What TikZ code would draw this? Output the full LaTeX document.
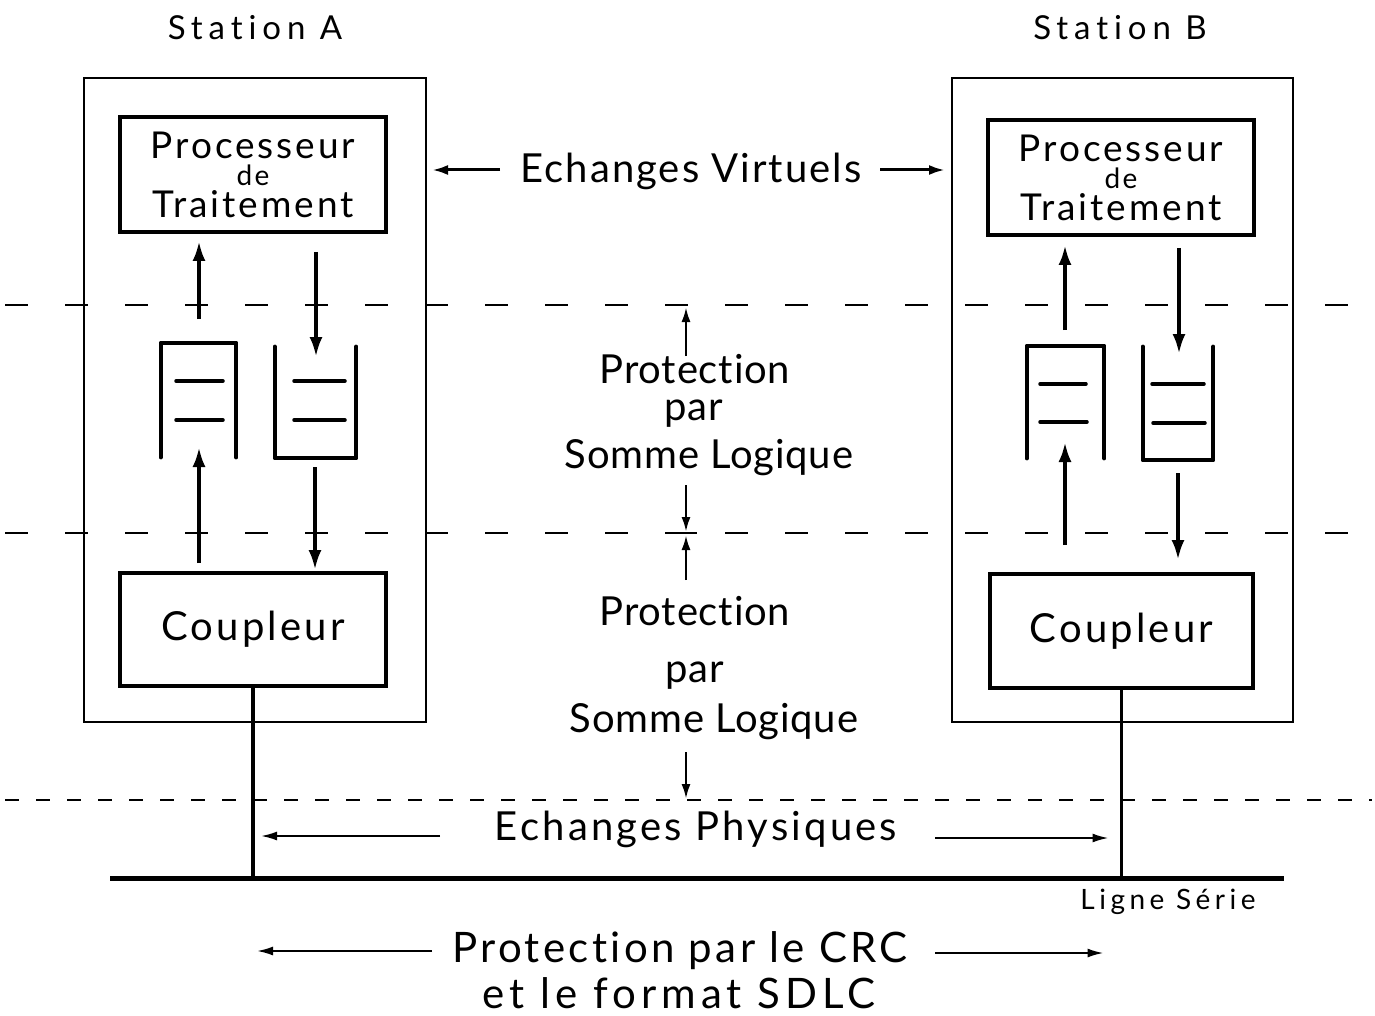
\documentclass[tikz,border=0pt]{standalone}
\usepackage{fontspec}
\setmainfont{Lato}[Ligatures=NoCommon, LetterSpace=5]
\usetikzlibrary{arrows.meta}
\newcommand{\lsp}[1]{\addfontfeatures{LetterSpace=#1}}
\begin{document}
\begin{tikzpicture}[x=1pt,y=-1pt,
  outerbox/.style={draw, line width=2pt, minimum width=#1},
  innerbox/.style={draw, line width=3.5pt, align=center, font=\fontsize{37}{46}\selectfont\lsp{8}},
  dline/.style={line width=1.8pt, dash pattern=on 23pt off 37pt},
  dlineb/.style={line width=1.8pt, dash pattern=on 14pt off 17pt},
  qline/.style={line width=4.5pt, line cap=round, line join=round},
  qbar/.style={line width=3.5pt, line cap=round},
  fatarr/.style={line width=3.8pt, -{Latex[length=20pt,width=13pt]}},
  midarr/.style={line width=2.5pt, -{Latex[length=15pt,width=9pt]}},
  evarr/.style={line width=3pt, -{Latex[length=16pt,width=10pt]}},
  thinarr/.style={line width=2pt, -{Latex[length=16pt,width=9pt]}},
  lbl/.style={anchor=base, font=\fontsize{40}{48}\selectfont},
  midlbl/.style={anchor=base, font=\fontsize{40}{48}\selectfont\lsp{2}},
  qnode/.style={minimum width=#1, inner sep=0pt}
]
\useasboundingbox (0,0) rectangle (1375,1016);
\fill[white] (0,0) rectangle (1375,1016);

% titles
\node[lbl, font=\fontsize{33}{40}\selectfont\lsp{18}] (titA) at (255,40) {Station A};
\node[lbl, font=\fontsize{33}{40}\selectfont\lsp{18}] (titB) at (1120,40) {Station B};

% outer boxes
\node[outerbox=342pt, minimum height=644pt] (outA) at (255,400) {};
\node[outerbox=341pt, minimum height=644pt] (outB) at (1122.5,400) {};

% dashed level lines
\coordinate (dl1) at (5,305);  \coordinate (dr1) at (1372,305);
\coordinate (dl2) at (5,533);  \coordinate (dr2) at (1372,533);
\coordinate (dl3) at (5,800);  \coordinate (dr3) at (1372,800);
\draw[dline] (dl1) -- (dr1);
\draw[dline] (dl2) -- (dr2);
\draw[dlineb] (dl3) -- (dr3);

% inner boxes
\node[innerbox, minimum width=266pt, minimum height=115pt] (procA) at (253,174.5)
  {Processeur\\[-19pt]{\fontsize{28}{34}\selectfont de}\\[-14pt]Traitement};
\node[innerbox, minimum width=266pt, minimum height=115pt] (procB) at (1121,177.5)
  {Processeur\\[-19pt]{\fontsize{28}{34}\selectfont de}\\[-14pt]Traitement};
\node[innerbox, font=\fontsize{40}{48}\selectfont\lsp{8}, minimum width=266pt, minimum height=113pt] (coupA) at (253,629.5) {Coupleur};
\node[innerbox, font=\fontsize{40}{48}\selectfont\lsp{8}, minimum width=263pt, minimum height=114pt] (coupB) at (1121.5,631) {Coupleur};

% queues station A
\node[qnode=75pt, minimum height=114pt] (qA1) at (198.5,400) {};
\node[qnode=81pt, minimum height=111pt] (qA2) at (315.5,402.5) {};
\draw[qline] (qA1.south west) -- (qA1.north west) -- (qA1.north east) -- (qA1.south east);
\draw[qline] (qA2.north west) -- (qA2.south west) -- (qA2.south east) -- (qA2.north east);
\draw[qbar] (176,381) -- (223,381);
\draw[qbar] (176,420) -- (223,420);
\draw[qbar] (294,381) -- (345,381);
\draw[qbar] (294,420) -- (345,420);

% queues station B
\node[qnode=77pt, minimum height=112pt] (qB1) at (1065.5,402) {};
\node[qnode=70pt, minimum height=113pt] (qB2) at (1178,403.5) {};
\draw[qline] (qB1.south west) -- (qB1.north west) -- (qB1.north east) -- (qB1.south east);
\draw[qline] (qB2.north west) -- (qB2.south west) -- (qB2.south east) -- (qB2.north east);
\draw[qbar] (1040,384) -- (1086,384);
\draw[qbar] (1040,422) -- (1087,422);
\draw[qbar] (1152,384) -- (1204,384);
\draw[qbar] (1153,423) -- (1205,423);

% vertical arrows station A
\coordinate (a1t) at (199,319); \coordinate (a1h) at (199,241);
\coordinate (a2t) at (316,252); \coordinate (a2h) at (316,357);
\coordinate (a3t) at (199,563); \coordinate (a3h) at (199,447);
\coordinate (a4t) at (315,467); \coordinate (a4h) at (315,570);
\draw[fatarr] (a1t) -- (a1h);
\draw[fatarr] (a2t) -- (a2h);
\draw[fatarr] (a3t) -- (a3h);
\draw[fatarr] (a4t) -- (a4h);

% vertical arrows station B
\coordinate (b1t) at (1065,330); \coordinate (b1h) at (1065,245);
\coordinate (b2t) at (1179,248); \coordinate (b2h) at (1179,354);
\coordinate (b3t) at (1065,545); \coordinate (b3h) at (1065,442);
\coordinate (b4t) at (1178,473); \coordinate (b4h) at (1178,560);
\draw[fatarr] (b1t) -- (b1h);
\draw[fatarr] (b2t) -- (b2h);
\draw[fatarr] (b3t) -- (b3h);
\draw[fatarr] (b4t) -- (b4h);

% Echanges Virtuels
\node[lbl] (ev) at (691,183) {Echanges Virtuels};
\coordinate (evl) at (500,170); \coordinate (evr) at (880,170);
\draw[evarr] (evl) -- ([xshift=5pt]outA.east |- evl);
\draw[evarr] (evr) -- ([xshift=-6pt]outB.west |- evr);

% middle protection labels
\node[midlbl] (p1) at (695,383) {Protection};
\node[midlbl] (par1) at (694,420) {par};
\node[midlbl] (s1) at (709,468) {Somme Logique};
\node[midlbl] (p2) at (695,625) {Protection};
\node[midlbl] (par2) at (695,682) {par};
\node[midlbl] (s2) at (714,732) {Somme Logique};
\coordinate (m1t) at (686,356); \coordinate (m1h) at (686,307);
\coordinate (m2t) at (686,485); \coordinate (m2h) at (686,532);
\coordinate (m3t) at (686,580); \coordinate (m3h) at (686,535);
\coordinate (m4t) at (686,752); \coordinate (m4h) at (686,799);
\draw[midarr] (m1t) -- (m1h);
\draw[midarr] (m2t) -- (m2h);
\draw[midarr] (m3t) -- (m3h);
\draw[midarr] (m4t) -- (m4h);
\draw[line width=2.5pt] (675,533) -- (697,533);

% serial line and stubs
\coordinate (ligL) at (110,878); \coordinate (ligR) at (1284,878);
\draw[line width=5pt] (ligL) -- (ligR);
\draw[line width=3.5pt] (coupA.south) -- (coupA.south |- ligL);
\draw[line width=3.5pt] (coupB.south) -- (coupB.south |- ligL);
\node[lbl, font=\fontsize{28}{32}\selectfont\lsp{16}] (ls) at (1168,909) {Ligne Série};

% Echanges Physiques
\node[lbl, font=\fontsize{40}{48}\selectfont\lsp{8}] (ep) at (696,840) {Echanges Physiques};
\coordinate (epl) at (440,836); \coordinate (epr) at (935,838);
\draw[thinarr] (epl) -- ([xshift=8pt]coupA.south |- epl);
\draw[thinarr] (epr) -- ([xshift=-13pt]coupB.south |- epr);

% CRC
\node[lbl, font=\fontsize{42}{48}\selectfont\lsp{8}] (crc) at (680,962) {Protection par le CRC};
\node[lbl, font=\fontsize{42}{48}\selectfont\lsp{12}] (sdlc) at (679,1008) {et le format SDLC};
\coordinate (crl) at (432,951); \coordinate (crr) at (935,953);
\draw[thinarr] (crl) -- ([xshift=4pt]coupA.south |- crl);
\draw[thinarr] (crr) -- ([xshift=-18pt]coupB.south |- crr);
\end{tikzpicture}
\end{document}
